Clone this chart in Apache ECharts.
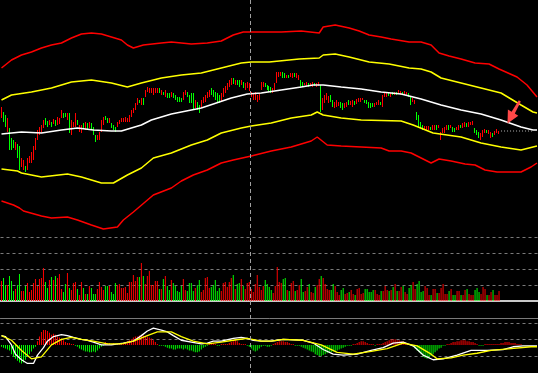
<!DOCTYPE html>
<html><head><meta charset="utf-8">
<script src="https://cdn.jsdelivr.net/npm/echarts@6/dist/echarts.min.js"></script>
<style>html,body{margin:0;padding:0;background:#000;}#c{width:538px;height:373px;}</style>
</head><body><div id="c"></div>
<script>
// ---- data ----
const categoryCount = 269;
const categories = Array.from({length: categoryCount}, (_, i) => 'D' + (i + 1));

const opens = [
10.82,10.88,10.85,10.68,10.72,10.62,10.60,10.50,10.56,10.54,
10.33,10.30,10.34,10.30,10.37,10.37,10.40,10.50,10.60,10.65,
10.67,10.72,10.82,10.79,10.75,10.78,10.76,10.80,10.75,10.76,
10.82,10.87,10.87,10.80,10.87,10.65,10.73,10.73,10.80,10.68,
10.67,10.77,10.70,10.77,10.72,10.77,10.73,10.65,10.60,10.60,
10.68,10.75,10.84,10.82,10.77,10.77,10.75,10.73,10.73,10.76,
10.78,10.78,10.78,10.78,10.78,10.83,10.87,10.90,10.95,11.00,
10.95,11.02,11.03,11.08,11.07,11.07,11.05,11.07,11.07,11.12,
11.05,11.08,11.03,11.07,11.07,11.03,11.07,11.05,11.03,11.03,
11.02,11.00,11.05,11.08,11.05,11.07,11.07,10.92,10.98,10.95,
10.92,10.97,10.98,11.02,11.03,11.12,11.10,11.08,11.07,11.05,
10.98,11.03,11.07,11.10,11.13,11.15,11.22,11.15,11.20,11.20,
11.15,11.18,11.10,11.12,11.09,11.03,11.00,11.00,10.98,11.00,
11.10,11.13,11.17,11.15,11.14,11.13,11.07,11.10,11.17,11.23,
11.24,11.28,11.27,11.22,11.25,11.23,11.22,11.27,11.22,11.20,
11.20,11.18,11.15,11.14,11.17,11.14,11.13,11.17,11.13,11.14,
11.15,10.90,10.97,11.00,10.97,11.05,11.00,10.92,10.93,10.94,
10.98,10.97,10.92,10.93,11.00,10.95,10.93,10.99,10.96,10.98,
10.98,11.00,11.00,11.00,10.98,10.97,10.97,10.93,10.95,10.95,
10.98,10.93,11.03,11.03,11.08,11.03,11.08,11.05,11.08,11.06,
11.05,11.08,11.05,11.05,11.07,11.03,10.98,10.96,10.88,10.85,
10.78,10.75,10.70,10.69,10.70,10.73,10.70,10.70,10.75,10.72,
10.60,10.67,10.67,10.70,10.75,10.72,10.73,10.72,10.70,10.70,
10.75,10.72,10.73,10.77,10.73,10.75,10.75,10.72,10.70,10.68,
10.60,10.63,10.67,10.70,10.66,10.62,10.67,10.65,10.67,10.66
];
const closes = [
10.93,10.78,10.73,10.82,10.50,10.50,10.52,10.58,10.42,10.30,
10.42,10.40,10.28,10.42,10.44,10.48,10.54,10.62,10.70,10.73,
10.75,10.80,10.75,10.73,10.80,10.73,10.81,10.74,10.83,10.82,
10.90,10.82,10.83,10.87,10.67,10.80,10.78,10.87,10.75,10.75,
10.75,10.72,10.78,10.70,10.78,10.70,10.65,10.58,10.65,10.68,
10.80,10.83,10.80,10.77,10.82,10.72,10.70,10.68,10.78,10.80,
10.82,10.82,10.83,10.82,10.85,10.90,10.92,10.97,11.02,10.97,
11.02,10.95,11.10,11.13,11.12,11.12,11.12,11.12,11.12,11.07,
11.10,11.05,11.10,11.02,11.02,11.08,11.02,11.00,10.98,10.98,
10.98,11.08,11.10,11.03,10.97,10.97,10.90,11.00,10.90,10.87,
11.00,11.03,11.05,11.08,11.10,11.05,11.03,11.00,10.98,10.97,
11.07,11.12,11.14,11.17,11.20,11.22,11.16,11.20,11.15,11.13,
11.20,11.12,11.17,11.18,11.17,11.08,11.07,11.08,11.05,11.07,
11.18,11.18,11.13,11.10,11.08,11.07,11.12,11.17,11.28,11.28,
11.28,11.22,11.22,11.25,11.22,11.27,11.27,11.23,11.27,11.25,
11.13,11.13,11.17,11.18,11.13,11.17,11.18,11.14,11.17,11.18,
10.88,11.02,11.05,11.07,11.04,10.98,10.93,10.98,11.00,10.98,
10.92,10.90,10.97,10.98,10.95,10.99,11.00,10.95,11.01,11.02,
11.02,11.02,10.97,10.96,10.92,10.92,10.93,10.97,10.98,11.00,
10.95,11.05,11.07,11.07,11.04,11.07,11.05,11.08,11.05,11.10,
11.09,11.05,11.09,11.08,11.03,10.95,11.02,11.00,10.80,10.73,
10.72,10.70,10.74,10.74,10.74,10.70,10.75,10.75,10.70,10.75,
10.68,10.72,10.73,10.75,10.70,10.75,10.68,10.68,10.73,10.75,
10.72,10.77,10.78,10.73,10.78,10.78,10.79,10.67,10.65,10.62,
10.67,10.70,10.71,10.67,10.70,10.68,10.63,10.69,10.71,10.69
];
const volumes = [
20,23,16,16,25,20,10,12,16,27,
10,10,15,18,9,11,18,22,15,22,
23,33,19,13,21,24,21,25,23,27,
12,9,17,28,13,11,18,19,12,6,
19,13,7,7,15,13,7,7,12,19,
14,11,15,15,15,9,7,18,16,17,
13,13,14,8,19,19,26,20,24,24,
38,25,17,25,30,16,16,20,20,12,
12,22,25,15,11,21,18,15,10,9,
15,22,11,10,18,18,10,13,16,21,
9,11,23,24,13,14,16,21,10,13,
10,18,19,14,19,23,26,12,17,18,
22,15,12,18,19,12,9,17,26,14,
11,15,21,17,14,11,8,15,34,19,
18,22,23,11,10,18,20,10,11,16,
22,9,10,14,17,9,8,14,16,22,
25,23,17,12,11,11,17,15,9,6,
11,13,7,8,9,11,7,6,12,13,
7,8,12,12,9,9,11,11,7,6,
10,10,15,11,10,11,14,17,10,10,
14,15,9,7,13,16,19,12,17,20,
9,10,15,13,6,6,12,12,8,8,
13,17,7,7,10,12,6,6,10,10,
6,6,11,12,7,6,6,11,13,9,
7,14,12,6,6,9,11,6,6,10
];
const macdHist = [
-0.02,-0.03,-0.04,-0.05,-0.06,-0.10,-0.13,-0.15,-0.17,-0.19,
-0.20,-0.19,-0.16,-0.13,-0.10,-0.07,-0.04,-0.02,0.04,0.09,
0.14,0.16,0.16,0.15,0.13,0.11,0.12,0.11,0.09,0.08,
0.07,0.05,0.03,0.02,0.02,0.01,0.01,-0.01,-0.02,-0.04,
-0.05,-0.06,-0.07,-0.07,-0.08,-0.08,-0.07,-0.08,-0.06,-0.04,
-0.02,-0.01,0.03,0.02,0.02,0.01,0.02,0.01,0.01,0.02,
0.01,0.02,0.03,0.04,0.05,0.06,0.08,0.09,0.09,0.10,
0.10,0.10,0.09,0.09,0.08,0.07,0.05,0.03,0.01,-0.01,
-0.01,-0.01,-0.02,-0.03,-0.04,-0.04,-0.05,-0.05,-0.04,-0.04,
-0.04,-0.05,-0.04,-0.05,-0.06,-0.06,-0.07,-0.08,-0.08,-0.07,
-0.05,-0.03,-0.02,-0.01,0.02,0.02,0.02,0.01,-0.01,-0.01,
0.01,0.01,0.01,0.01,0.02,0.03,0.04,0.05,0.04,0.02,
0.01,0.01,0.01,-0.01,-0.02,-0.04,-0.06,-0.07,-0.06,-0.04,
-0.02,-0.01,-0.01,-0.02,-0.02,-0.01,0.01,0.02,0.03,0.04,
0.04,0.04,0.03,0.03,0.02,0.01,0.01,-0.01,-0.01,-0.01,
-0.02,-0.03,-0.04,-0.05,-0.06,-0.07,-0.08,-0.10,-0.11,-0.12,
-0.12,-0.11,-0.10,-0.09,-0.08,-0.08,-0.07,-0.07,-0.06,-0.05,
-0.04,-0.03,-0.02,-0.01,-0.01,-0.01,0.01,0.01,0.02,0.03,
0.04,0.04,0.03,0.02,0.01,0.01,0.01,-0.01,0.01,0.01,
0.01,0.02,0.03,0.04,0.05,0.06,0.06,0.06,0.05,0.05,
0.04,0.04,0.03,0.02,0.01,-0.01,-0.02,-0.04,-0.06,-0.08,
-0.10,-0.13,-0.14,-0.15,-0.14,-0.12,-0.10,-0.08,-0.06,-0.04,
-0.03,-0.01,-0.01,0.01,0.01,0.02,0.03,0.03,0.04,0.04,
0.05,0.05,0.05,0.04,0.04,0.03,0.03,0.02,0.01,-0.01,
-0.01,-0.01,0.01,0.01,0.01,0.01,0.01,0.01,0.01,0.01,
0.02,0.02,0.03,0.03,0.03,0.02,0.02,0.02,0.01,0.01,0.01
];
// MACD lines: [category index, value]
const difLine = [[0,0.10],[2,0.09],[5,0.00],[7,-0.10],[10,-0.16],[13,-0.20],[16,-0.20],[18,-0.11],[21,-0.03],[23,0.04],[26,0.09],[30,0.11],[33,0.10],[36,0.08],[40,0.06],[43,0.05],[46,0.03],[50,0.00],[55,0.00],[61,0.02],[66,0.04],[70,0.10],[73,0.15],[76,0.18],[80,0.16],[83,0.14],[86,0.10],[90,0.05],[95,0.03],[100,0.01],[103,0.02],[106,0.04],[110,0.04],[116,0.07],[120,0.08],[123,0.07],[126,0.05],[130,0.04],[135,0.04],[138,0.05],[141,0.06],[151,0.05],[156,0.02],[161,-0.05],[166,-0.10],[171,-0.11],[178,-0.10],[185,-0.06],[191,-0.03],[196,0.02],[201,0.03],[206,-0.01],[211,-0.11],[216,-0.16],[221,-0.15],[228,-0.11],[235,-0.06],[238,-0.06],[243,-0.06],[251,-0.05],[256,-0.02],[261,-0.01],[268,-0.01]];
const deaLine = [[0,0.10],[5,0.05],[10,-0.06],[15,-0.15],[20,-0.13],[25,0.00],[30,0.06],[35,0.08],[40,0.06],[46,0.04],[53,0.01],[60,0.01],[66,0.04],[73,0.10],[78,0.14],[85,0.14],[90,0.09],[96,0.04],[103,0.01],[110,0.03],[116,0.05],[123,0.07],[130,0.04],[135,0.04],[141,0.06],[151,0.05],[160,0.00],[168,-0.08],[176,-0.10],[185,-0.07],[193,-0.04],[201,0.02],[208,-0.01],[215,-0.10],[218,-0.15],[225,-0.14],[231,-0.11],[238,-0.09],[245,-0.06],[255,-0.04],[265,-0.02],[268,-0.02]];
// Price bands: [category index, price]
const outerUpper = [[0,11.32],[5,11.40],[10,11.45],[15,11.48],[20,11.52],[25,11.55],[30,11.57],[35,11.62],[40,11.66],[45,11.67],[50,11.66],[55,11.63],[60,11.60],[63,11.55],[66,11.52],[71,11.55],[80,11.57],[85,11.58],[90,11.57],[95,11.56],[103,11.57],[110,11.59],[116,11.65],[121,11.68],[131,11.68],[140,11.68],[150,11.69],[159,11.67],[161,11.73],[167,11.75],[174,11.72],[179,11.69],[184,11.65],[190,11.63],[195,11.61],[204,11.58],[210,11.58],[215,11.55],[219,11.47],[224,11.44],[230,11.41],[237,11.37],[244,11.36],[249,11.31],[258,11.23],[263,11.15],[268,11.03]];
const innerUpper = [[0,11.00],[5,11.05],[15,11.08],[25,11.12],[35,11.18],[45,11.20],[55,11.17],[63,11.13],[70,11.17],[80,11.22],[90,11.25],[100,11.27],[110,11.32],[120,11.37],[125,11.38],[134,11.38],[149,11.41],[159,11.42],[161,11.45],[167,11.46],[174,11.43],[184,11.38],[194,11.36],[204,11.32],[210,11.31],[215,11.28],[220,11.22],[230,11.17],[240,11.12],[250,11.07],[260,10.95],[266,10.88],[268,10.87]];
const midLine = [[0,10.66],[10,10.68],[20,10.67],[30,10.70],[38,10.72],[46,10.70],[55,10.69],[60,10.69],[65,10.72],[70,10.75],[75,10.80],[80,10.83],[85,10.86],[90,10.88],[100,10.92],[106,10.96],[115,11.02],[123,11.06],[130,11.07],[140,11.10],[150,11.13],[156,11.15],[161,11.15],[170,11.13],[180,11.11],[190,11.08],[200,11.06],[210,11.01],[220,10.95],[230,10.90],[240,10.86],[250,10.80],[260,10.73],[266,10.70],[268,10.70]];
const innerLower = [[0,10.31],[8,10.29],[10,10.27],[20,10.23],[33,10.26],[40,10.23],[50,10.17],[56,10.17],[63,10.25],[70,10.32],[76,10.42],[85,10.47],[95,10.55],[103,10.60],[110,10.67],[120,10.72],[125,10.74],[135,10.77],[145,10.82],[155,10.85],[158,10.88],[161,10.85],[170,10.82],[180,10.80],[200,10.79],[206,10.75],[216,10.67],[230,10.63],[240,10.57],[250,10.53],[260,10.50],[266,10.53],[268,10.54]];
const outerLower = [[0,9.99],[6,9.95],[9,9.92],[11,9.89],[20,9.84],[25,9.82],[33,9.83],[38,9.80],[45,9.75],[51,9.71],[58,9.73],[61,9.80],[66,9.88],[76,10.05],[85,10.12],[90,10.19],[96,10.25],[103,10.30],[110,10.37],[116,10.40],[125,10.44],[135,10.49],[145,10.53],[155,10.59],[158,10.63],[163,10.55],[170,10.54],[180,10.53],[190,10.52],[194,10.49],[200,10.49],[205,10.47],[210,10.42],[215,10.37],[219,10.41],[225,10.39],[232,10.36],[237,10.35],[242,10.30],[248,10.28],[260,10.28],[265,10.33],[268,10.37]];
const lastCloseLine = [[250,10.69],[266,10.69]];

// ---- chart ----
const UP = '#ff0000', DOWN = '#00ff00';
const candleData = opens.map((o, i) => { const c = closes[i]; return [o, c, Math.min(o, c), Math.max(o, c)]; });
const volData = volumes.map((v, i) => ({ value: v, itemStyle: { color: closes[i] >= opens[i] ? UP : DOWN } }));
const histData = macdHist.map(v => ({ value: v, itemStyle: { color: v >= 0 ? UP : DOWN } }));
const dash = { show: true, lineStyle: { color: '#7a7a7a', width: 1, type: [3, 3] } };
const hiddenX = k => ({ type: 'category', gridIndex: k, data: categories, boundaryGap: true,
  axisTick: { show: false }, axisLabel: { show: false }, splitLine: { show: false }, axisLine: { show: false } });
const xVol = hiddenX(1); xVol.axisLine = { show: true, lineStyle: { color: '#c8c8c8', width: 2 } };
const xMacd = hiddenX(2); xMacd.position = 'top'; xMacd.axisLine = { show: true, onZero: false, lineStyle: { color: '#7a7a7a', width: 1 } };
function band(data, color) {
  return { type: 'line', xAxisIndex: 0, yAxisIndex: 0, data, showSymbol: false, symbol: 'none',
    lineStyle: { color, width: 1.5 }, z: 3, silent: true };
}
const option = {
  backgroundColor: '#000',
  animation: false,
  grid: [
    { left: 0.5, width: 538, top: 0, height: 235 },
    { left: 0.5, width: 538, top: 237, height: 64 },
    { left: 0.5, width: 538, top: 318, height: 59.3 }
  ],
  xAxis: [hiddenX(0), xVol, xMacd],
  yAxis: [
    { gridIndex: 0, min: 9.65, max: 12.00, show: false },
    { gridIndex: 1, min: 0, max: 64, interval: 16, axisLine: { show: false }, axisTick: { show: false }, axisLabel: { show: false }, splitLine: dash },
    { gridIndex: 2, min: -0.303, max: 0.29, show: false },
    { gridIndex: 2, min: 0, max: 59.3, interval: 18, axisLine: { show: false }, axisTick: { show: false }, axisLabel: { show: false }, splitLine: dash }
  ],
  series: [
    band(outerUpper, '#ff0000'), band(outerLower, '#ff0000'),
    band(innerUpper, '#ffff00'), band(innerLower, '#ffff00'),
    { type: 'candlestick', xAxisIndex: 0, yAxisIndex: 0, data: candleData, barWidth: 1, silent: true, z: 2,
      itemStyle: { color: UP, color0: DOWN, borderColor: UP, borderColor0: DOWN, borderWidth: 1 } },
    band(midLine, '#ffffff'),
    { type: 'line', xAxisIndex: 0, yAxisIndex: 0, data: lastCloseLine, showSymbol: false, symbol: 'none', silent: true,
      lineStyle: { color: '#b0b0b0', width: 1, type: [1, 2] } },
    { type: 'bar', xAxisIndex: 1, yAxisIndex: 1, data: volData, barWidth: 1, silent: true },
    { type: 'bar', xAxisIndex: 2, yAxisIndex: 2, data: histData, barWidth: 1, silent: true },
    { type: 'line', xAxisIndex: 2, yAxisIndex: 2, data: difLine, showSymbol: false, symbol: 'none', silent: true, lineStyle: { color: '#ffffff', width: 1.3 } },
    { type: 'line', xAxisIndex: 2, yAxisIndex: 2, data: deaLine, showSymbol: false, symbol: 'none', silent: true, lineStyle: { color: '#ffff00', width: 1.3 } }
  ],
  graphic: [
    { type: 'line', shape: { x1: 250.5, y1: 0, x2: 250.5, y2: 373 }, style: { stroke: '#a0a0a0', lineWidth: 1, lineDash: [4, 3] }, z: 100, silent: true },
    { type: 'polygon', shape: { points: [[507.5,123.5],[518.3,115.8],[514.8,113.6],[520.8,101.4],[518.8,100.2],[511.6,111.8],[507.9,109.6]] },
      style: { fill: '#ff4848' }, z: 100, silent: true }
  ]
};
const chart = echarts.init(document.getElementById('c'), null, { renderer: 'canvas' });
chart.setOption(option);
</script>
</body></html>
